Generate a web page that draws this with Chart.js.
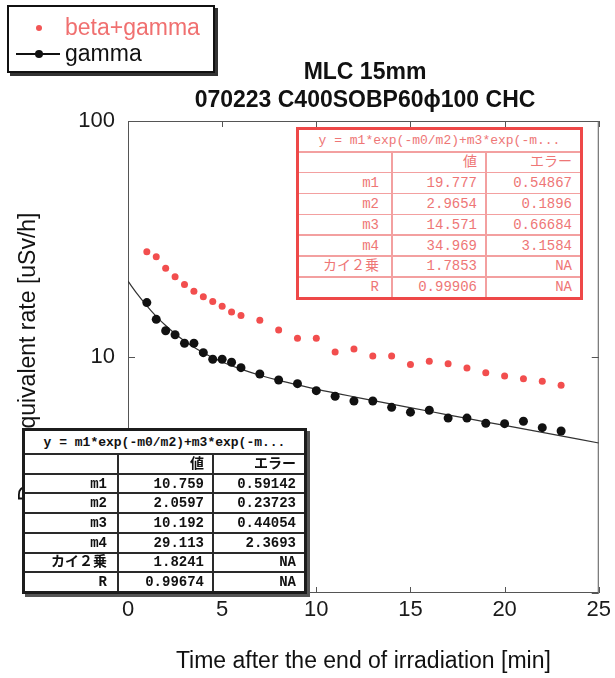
<!DOCTYPE html>
<html>
<head>
<meta charset="utf-8">
<script src="https://cdn.jsdelivr.net/npm/chart.js@4.4.1/dist/chart.umd.min.js"></script>
<style>
  html, body { margin: 0; padding: 0; background: #fff; }
  #wrap { position: relative; width: 615px; height: 678px; overflow: hidden; font-family: "Liberation Sans", Arial, sans-serif; }
  #chart { position: absolute; left: 0; top: 0; }
  .ttl { position: absolute; left: 115px; width: 500px; text-align: center; font-weight: bold; font-size: 23px; line-height: 26px; color: #111; }
  #legend { position: absolute; left: 7px; top: 5px; width: 208px; height: 68px; box-sizing: border-box; border: 2px solid #111; box-shadow: 3px 3px 0 #333; background: #fff; }
  .lg-text { position: absolute; left: 56px; font-size: 23px; line-height: 26px; white-space: nowrap; }
</style>
</head>
<body>
<div id="wrap">
  <canvas id="chart" width="615" height="678"></canvas>
  <div class="ttl" id="title1" style="top:58px;"></div>
  <div class="ttl" id="title2" style="top:86px;"></div>
  <div id="legend"></div>
  <div id="tblRed"></div>
  <div id="tblBlack"></div>
</div>
<script>
// ---------------- data ----------------
const titleLines = ['MLC 15mm', '070223 C400SOBP60\u03d5100 CHC'];
const seriesNames = ['beta+gamma', 'gamma'];
const xAxisTitle = 'Time after the end of irradiation [min]';
const yAxisTitle = 'Dose equivalent rate [uSv/h]';

const times = [1, 1.5, 2, 2.5, 3, 3.5, 4, 4.5, 5, 5.5, 6,
               7, 8, 9, 10, 11, 12, 13, 14, 15, 16, 17, 18, 19, 20, 21, 22, 23];
const betaGamma = [27.9, 26.6, 23.8, 21.9, 20.3, 19.0, 18.0, 17.2, 16.4, 15.5, 15.0,
                   14.3, 13.0, 12.0, 12.0, 10.5, 10.8, 10.1, 10.1, 9.29, 9.59, 9.37, 8.98, 8.58, 8.31, 8.09, 7.89, 7.59];
const gamma = [17.0, 14.44, 12.92, 12.43, 11.43, 11.43, 10.43, 9.78, 9.78, 9.50, 9.01,
               8.47, 7.99, 7.71, 7.20, 6.82, 6.51, 6.51, 6.12, 5.84, 5.95, 5.51, 5.51, 5.24, 5.22, 5.34, 5.02, 4.86];

// fitted curve (gamma)
const fitX = [0, 0.5, 1, 1.5, 2, 2.5, 3, 3.5, 4, 4.5, 5, 6, 7, 8, 9, 10, 12, 14, 16, 18, 20, 22, 25];
const fitY = [20.95, 18.46, 16.47, 14.87, 13.59, 12.55, 11.70, 11.00, 10.43, 9.94, 9.53, 8.88, 8.37, 7.96, 7.62, 7.31, 6.78, 6.31, 5.89, 5.49, 5.13, 4.79, 4.32];

const xTickValues = [0, 5, 10, 15, 20, 25];
const yTickValues = [1, 10, 100];
const yTickLabels = ['', '10', '100'];

// fit-result tables
const fitFormula = 'y = m1*exp(-m0/m2)+m3*exp(-m...';
const tableHeaders = ['', '値', 'エラー'];
const tableRowLabels = ['m1', 'm2', 'm3', 'm4', 'カイ２乗', 'R'];
const betaFitValues = ['19.777', '2.9654', '14.571', '34.969', '1.7853', '0.99906'];
const betaFitErrors = ['0.54867', '0.1896', '0.66684', '3.1584', 'NA', 'NA'];
const gammaFitValues = ['10.759', '2.0597', '10.192', '29.113', '1.8241', '0.99674'];
const gammaFitErrors = ['0.59142', '0.23723', '0.44054', '2.3693', 'NA', 'NA'];

// ---------------- titles & legend ----------------
document.getElementById('title1').textContent = titleLines[0];
document.getElementById('title2').textContent = titleLines[1];

(function buildLegend() {
  const lg = document.getElementById('legend');
  const colors = ['#f07070', '#111'];
  const ys = [20, 46];
  seriesNames.forEach((name, i) => {
    if (i === 1) {
      const ln = document.createElement('div');
      ln.style.cssText = `position:absolute;left:7px;top:${ys[i]}px;width:44px;height:1.5px;background:#111;`;
      lg.appendChild(ln);
    }
    const r = i === 0 ? 3 : 4;
    const dot = document.createElement('div');
    dot.style.cssText = `position:absolute;left:${30 - r}px;top:${ys[i] - r + 0.5}px;width:${2 * r}px;height:${2 * r}px;border-radius:50%;background:${i === 0 ? '#f25555' : '#111'};`;
    lg.appendChild(dot);
    const t = document.createElement('div');
    t.className = 'lg-text';
    t.style.top = (ys[i] - 13) + 'px';
    t.style.color = colors[i];
    t.textContent = name;
    lg.appendChild(t);
  });
})();

// ---------------- tables ----------------
function buildTable(el, o, values, errors) {
  el.style.cssText = `position:absolute;left:${o.left}px;top:${o.top}px;width:${o.width}px;height:${o.height}px;` +
    `box-sizing:border-box;border:${o.border};background:${o.line};display:grid;` +
    `grid-template-columns:${o.cols};grid-template-rows:${o.headH}px repeat(7,1fr);` +
    `row-gap:${o.gapY}px;column-gap:${o.gapX}px;box-shadow:${o.shadow};color:${o.color};` +
    `font-family:"Liberation Mono","Noto Sans CJK JP",monospace;font-size:14px;font-weight:${o.weight};`;
  const cell = (txt, pad, extra) => {
    const d = document.createElement('div');
    d.textContent = txt;
    d.style.cssText = 'background:#fff;display:flex;align-items:center;justify-content:flex-end;' +
      `padding-right:${pad}px;white-space:nowrap;overflow:hidden;line-height:1;` + (extra || '');
    el.appendChild(d);
  };
  cell(fitFormula, 0, 'grid-column:1 / span 3;justify-content:center;font-size:13px;');
  tableHeaders.forEach((h, j) => cell(h, j === 0 ? o.labelPad : 8));
  tableRowLabels.forEach((l, i) => { cell(l, o.labelPad); cell(values[i], 8); cell(errors[i], 8); });
}
buildTable(document.getElementById('tblRed'), {
  left: 296, top: 127, width: 287, height: 173,
  border: '3px solid #ee4848', line: '#f3a0a0', cols: '92px 92px 1fr', headH: 21,
  gapX: 2, gapY: 1.5, shadow: 'none', color: '#ee7676', weight: 'normal', labelPad: 12
}, betaFitValues, betaFitErrors);
buildTable(document.getElementById('tblBlack'), {
  left: 22, top: 428, width: 285, height: 166,
  border: '3px solid #1c1c1c', line: '#2a2a2a', cols: '92px 93px 1fr', headH: 22,
  gapX: 2, gapY: 2, shadow: '3px 3px 0 #555', color: '#111', weight: 'bold', labelPad: 10
}, gammaFitValues, gammaFitErrors);

// ---------------- chart ----------------
const FONT = '"Liberation Sans", Arial, sans-serif';

const frameTicks = {
  id: 'frameTicks',
  beforeDatasetsDraw(chart) {
    const { ctx, chartArea: a, scales: { x, y } } = chart;
    ctx.save();
    ctx.strokeStyle = '#555';
    ctx.lineWidth = 1;
    ctx.strokeRect(a.left + 0.5, a.top + 0.5, a.right - a.left - 1, a.bottom - a.top - 1);
    ctx.beginPath();
    x.ticks.forEach(t => {
      const px = Math.round(x.getPixelForValue(t.value)) + 0.5;
      ctx.moveTo(px, a.bottom); ctx.lineTo(px, a.bottom - 6);
      ctx.moveTo(px, a.top); ctx.lineTo(px, a.top + 6);
    });
    y.ticks.forEach(t => {
      const py = Math.round(y.getPixelForValue(t.value)) + 0.5;
      ctx.moveTo(a.left, py); ctx.lineTo(a.left + 7, py);
      ctx.moveTo(a.right, py); ctx.lineTo(a.right - 7, py);
    });
    ctx.stroke();
    ctx.restore();
  }
};

new Chart(document.getElementById('chart'), {
  type: 'scatter',
  data: {
    datasets: [
      {
        label: seriesNames[0],
        data: times.map((t, i) => ({ x: t, y: betaGamma[i] })),
        pointRadius: 3.5, pointBackgroundColor: '#f24e4e', pointBorderWidth: 0, order: 3
      },
      {
        label: 'fit',
        data: fitX.map((t, i) => ({ x: t, y: fitY[i] })),
        showLine: true, pointRadius: 0, borderColor: '#333', borderWidth: 1.2,
        cubicInterpolationMode: 'monotone', order: 2
      },
      {
        label: seriesNames[1],
        data: times.map((t, i) => ({ x: t, y: gamma[i] })),
        pointRadius: 4.5, pointBackgroundColor: '#111', pointBorderWidth: 0, order: 1
      }
    ]
  },
  options: {
    responsive: false,
    animation: false,
    devicePixelRatio: 1,
    layout: { padding: { top: 121, right: 14, bottom: 0, left: 0 } },
    plugins: { legend: { display: false }, tooltip: { enabled: false }, title: { display: false } },
    scales: {
      x: {
        type: 'linear', min: 0, max: 25,
        afterBuildTicks(s) { s.ticks = xTickValues.map(v => ({ value: v })); },
        afterFit(s) { s.height = 85; },
        ticks: { font: { size: 22, family: FONT }, color: '#1a1a1a', padding: 4, maxRotation: 0,
                 callback: v => String(v) },
        grid: { display: false, drawTicks: false },
        border: { display: false },
        title: { display: true, text: xAxisTitle, color: '#111', font: { size: 23, family: FONT },
                 padding: { top: 0, bottom: 3 } }
      },
      y: {
        type: 'logarithmic', min: 1, max: 100,
        afterBuildTicks(s) { s.ticks = yTickValues.map(v => ({ value: v })); },
        afterFit(s) { s.width = 128; },
        ticks: { font: { size: 22, family: FONT }, color: '#1a1a1a', padding: 13,
                 callback: v => yTickLabels[yTickValues.indexOf(v)] },
        grid: { display: false, drawTicks: false },
        border: { display: false },
        title: { display: true, text: yAxisTitle, color: '#111', font: { size: 23, family: FONT },
                 padding: { top: 15, bottom: 0 } }
      }
    }
  },
  plugins: [frameTicks]
});
</script>
</body>
</html>
